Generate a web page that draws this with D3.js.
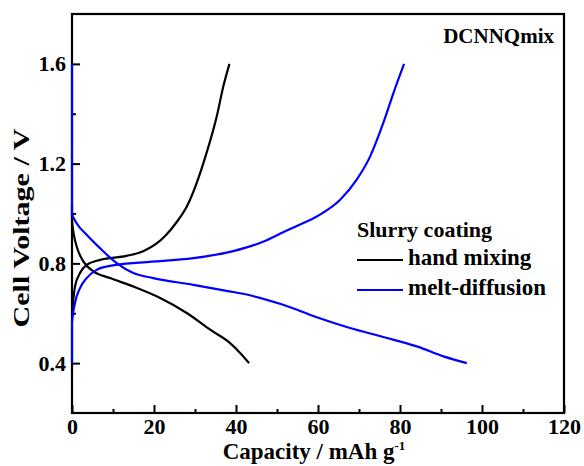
<!DOCTYPE html>
<html lang="en">
<head>
<meta charset="UTF-8" />
<script src="https://d3js.org/d3.v7.min.js"></script>
<title>DCNNQmix</title>
<style>
  body { margin: 0; background: #fff; }
  text { font-family: "Liberation Serif", "Times New Roman", serif; font-weight: bold; fill: #000; }
</style>
</head>
<body>
<script>
const width = 584;
const height = 466;

// capacity (mAh/g), voltage (V)
const handCharge = [[0,0.58],[0.3,0.65],[0.73,0.707],[1.95,0.761],[3.58,0.794],[6.83,0.814],[13.3,0.83],[17.5,0.85],[20.5,0.878],[23,0.915],[25.5,0.965],[28,1.028],[30.4,1.122],[32.8,1.242],[35.3,1.389],[36.9,1.509],[38.4,1.6]];
const handDischarge = [[0,1.04],[0,0.975],[0.4,0.92],[1.14,0.868],[2.76,0.808],[5.2,0.768],[9.27,0.741],[14.95,0.707],[21.5,0.661],[28,0.601],[33.7,0.534],[38.5,0.481],[41.4,0.434],[43.2,0.4]];
const meltCharge = [[0,0.4],[0,0.561],[0.73,0.641],[1.95,0.701],[3.58,0.741],[6,0.774],[9.27,0.79],[17.4,0.804],[29.6,0.821],[37.7,0.843],[43.4,0.868],[47.5,0.893],[51.5,0.925],[55.5,0.955],[59.7,0.988],[65.4,1.055],[69.4,1.135],[72.7,1.228],[75.9,1.362],[78.4,1.483],[81,1.6]];
const meltDischarge = [[0,1.6],[0,1.0],[1.14,0.961],[3.58,0.915],[6.83,0.861],[10.9,0.801],[14.95,0.761],[19.8,0.741],[29.6,0.714],[37.7,0.69],[43.4,0.672],[51.5,0.634],[59.7,0.584],[67.8,0.541],[75.9,0.505],[84.1,0.467],[90.6,0.427],[96.3,0.4]];

const xMajor = [0,20,40,60,80,100,120];
const xMinor = [10,30,50,70,90,110];
const yMajor = [0.4,0.8,1.2,1.6];
const yMinor = [0.6,1.0,1.4];

const series = [
  {name: "hand mixing", color: "#000000", curves: [handCharge, handDischarge]},
  {name: "melt-diffusion", color: "#0000ff", curves: [meltCharge, meltDischarge]}
];

const margin = {left: 72, top: 14, right: 20, bottom: 53};
const x = d3.scaleLinear().domain([0,120]).range([margin.left, width - margin.right]);
const y = d3.scaleLinear().domain([0.2,1.8]).range([height - margin.bottom, margin.top]);

const svg = d3.select("body").append("svg")
  .attr("width", width)
  .attr("height", height);

// axes, ticks pointing inward
svg.append("g")
  .attr("transform", "translate(" + margin.left + ",0)")
  .call(d3.axisLeft(y).tickValues(yMajor).tickFormat(d3.format(".1f")).tickSize(-8).tickPadding(6));
svg.append("g")
  .attr("transform", "translate(" + margin.left + ",0)")
  .call(d3.axisLeft(y).tickValues(yMinor).tickFormat("").tickSize(-4));

svg.append("g")
  .attr("transform", "translate(0," + y.range()[0] + ")")
  .call(d3.axisBottom(x).tickValues(xMajor).tickSize(-8).tickPadding(5));
svg.append("g")
  .attr("transform", "translate(0," + y.range()[0] + ")")
  .call(d3.axisBottom(x).tickValues(xMinor).tickFormat("").tickSize(-4));

svg.selectAll(".domain").remove();
svg.selectAll(".tick line").attr("stroke", "#000").attr("stroke-width", 2);
svg.selectAll(".tick text")
  .style("font-family", '"Liberation Serif", "Times New Roman", serif')
  .style("font-weight", "bold")
  .style("font-size", "22px")
  .attr("fill", "#000");

// frame
svg.append("rect")
  .attr("x", x(0))
  .attr("y", y(1.8))
  .attr("width", x(120) - x(0))
  .attr("height", y(0.2) - y(1.8))
  .attr("fill", "none")
  .attr("stroke", "#000")
  .attr("stroke-width", 2.2);

// curves (on top of the frame, as in the original)
const line = d3.line()
  .x(d => x(d[0]))
  .y(d => y(d[1]))
  .curve(d3.curveMonotoneX);

series.forEach(s => {
  s.curves.forEach(c => {
    svg.append("path")
      .datum(c)
      .attr("d", line)
      .attr("fill", "none")
      .attr("stroke", s.color)
      .attr("stroke-width", 2.2);
  });
});

// axis titles
const xt = svg.append("text")
  .attr("x", (x(0) + x(120)) / 2 - 4)
  .attr("y", 459)
  .attr("text-anchor", "middle")
  .style("font-size", "23px");
xt.append("tspan").text("Capacity / mAh g");
xt.append("tspan").attr("dy", -9).style("font-size", "13px").text("-1");

svg.append("text")
  .attr("transform", "translate(29," + 228 + ") rotate(-90)")
  .attr("text-anchor", "middle")
  .attr("textLength", 199)
  .attr("lengthAdjust", "spacingAndGlyphs")
  .style("font-size", "23px")
  .text("Cell Voltage / V");

// sample label
svg.append("text")
  .attr("x", 554)
  .attr("y", 43)
  .attr("text-anchor", "end")
  .style("font-size", "21px")
  .text("DCNNQmix");

// legend
const lg = svg.append("g").attr("transform", "translate(357,237)");
lg.append("text").attr("x", 0).attr("y", 0).style("font-size", "22px").text("Slurry coating");
series.forEach((s, i) => {
  const yy = 28 + i * 30;
  lg.append("line")
    .attr("x1", 0).attr("x2", 46)
    .attr("y1", yy - 5).attr("y2", yy - 5)
    .attr("stroke", s.color)
    .attr("stroke-width", 2.2);
  lg.append("text").attr("x", 51).attr("y", yy).style("font-size", "23px").text(s.name);
});
</script>
</body>
</html>
